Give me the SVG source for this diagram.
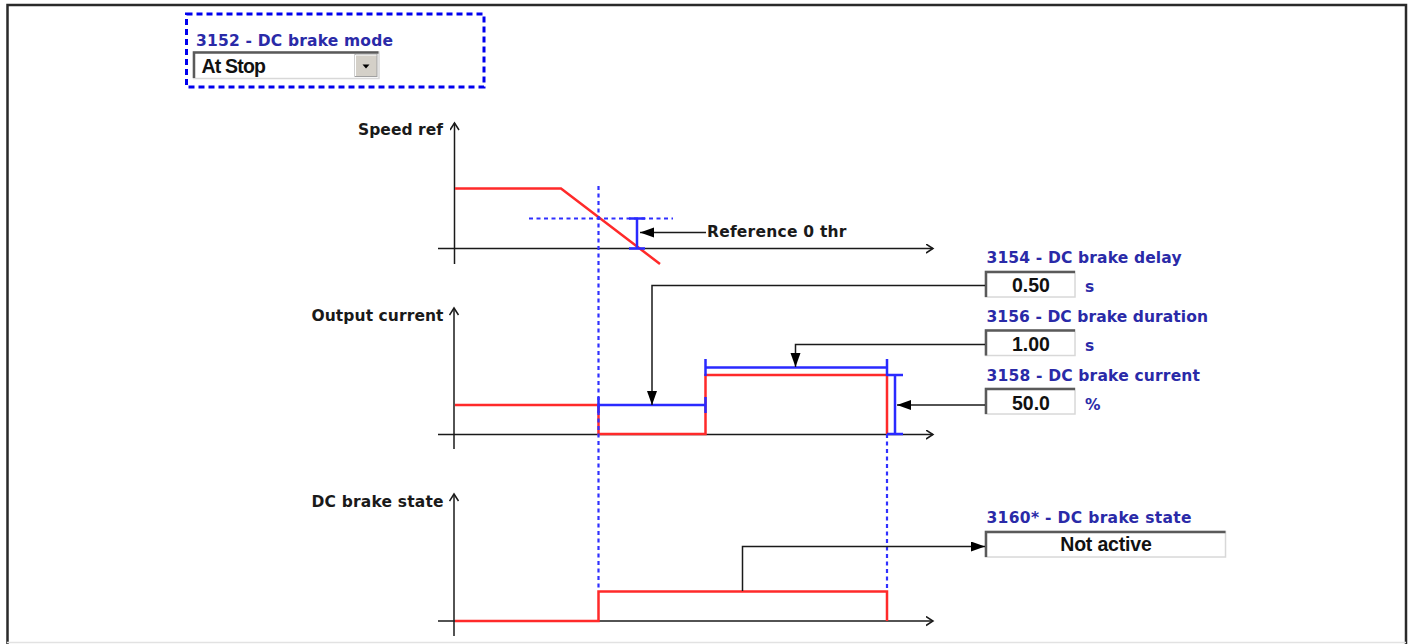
<svg xmlns="http://www.w3.org/2000/svg" width="1414" height="644" viewBox="0 0 1414 644">
<style>
.lbl{font-family:"DejaVu Sans",Verdana,sans-serif;font-weight:bold;font-size:15.5px;fill:#1a1a1a}
.par{font-family:"DejaVu Sans",Verdana,sans-serif;font-weight:bold;font-size:15.5px;fill:#2a2aa8}
.val{font-family:"Liberation Sans",Arial,sans-serif;font-weight:bold;font-size:19.5px;fill:#111}
.axis{stroke:#1a1a1a;stroke-width:1.5;fill:none}
.red{stroke:#ff2a2a;stroke-width:2.5;fill:none}
.blue{stroke:#2a2aff;stroke-width:2.5;fill:none}
.dash{stroke:#3030ff;stroke-width:2.2;stroke-dasharray:4 3.5;fill:none}
.conn{stroke:#1a1a1a;stroke-width:1.5;fill:none}
.boxbg{fill:#fff;stroke:#d8d8d8;stroke-width:1.5}
.boxsh{stroke:#5a5a5a;stroke-width:2.5;fill:none}
</style>
<defs>
<marker id="tri" markerUnits="userSpaceOnUse" markerWidth="16" markerHeight="12" refX="14" refY="5" orient="auto">
<path d="M0,0 L14,5 L0,10 z" fill="#000"/>
</marker>
<marker id="open" markerUnits="userSpaceOnUse" markerWidth="10" markerHeight="12" refX="7.5" refY="5" orient="auto">
<path d="M0.5,0.5 L7.5,5 L0.5,9.5" fill="none" stroke="#1a1a1a" stroke-width="1.5"/>
</marker>
</defs>
<rect width="1414" height="644" fill="#fff"/>
<!-- frame -->
<path d="M7.5,644 V5 H1406 V644" fill="none" stroke="#2a2a2a" stroke-width="2.5"/>
<line x1="7" y1="642.5" x2="1406" y2="642.5" stroke="#e2e2e2" stroke-width="1.5"/>

<g id="dc-brake-mode">
<rect x="186.5" y="14" width="297.5" height="73" fill="none" stroke="#0000ee" stroke-width="3" stroke-dasharray="6 4"/>
<text class="par" x="196" y="45.5" textLength="197" lengthAdjust="spacing">3152 - DC brake mode</text>
<rect x="193.5" y="52" width="185.5" height="26.5" class="boxbg"/>
<path d="M194,78 V52.5 H378.5" class="boxsh" stroke-width="2"/>
<rect x="355" y="54.5" width="22" height="22" fill="#d4d0c8" stroke="#a0a0a0" stroke-width="1"/>
<path d="M355.5,76 V55 H376.5" stroke="#fff" stroke-width="1" fill="none"/>
<path d="M362.5,64.5 H369.5 L366,68.5 z" fill="#000"/>
<text class="val" x="201.5" y="72.7" font-size="18" textLength="64.5" lengthAdjust="spacing">At Stop</text>
</g>

<g id="speed-ref-chart">
<text class="lbl" x="358" y="135" textLength="85" lengthAdjust="spacing">Speed ref</text>
<line class="axis" x1="454.5" y1="264" x2="454.5" y2="123" marker-end="url(#open)"/>
<line class="axis" x1="438" y1="248.5" x2="933" y2="248.5" marker-end="url(#open)"/>
<path class="red" d="M455,188.5 H561 L660,264"/>
<line class="dash" x1="529" y1="218.5" x2="673" y2="218.5"/>
<path class="blue" d="M637,218.5 V248.5 M629,218.5 H645 M629,248.5 H645"/>
</g>

<g id="reference-0-thr">
<text class="lbl" x="707" y="237" textLength="139.5" lengthAdjust="spacing">Reference 0 thr</text>
</g>

<g id="output-current-chart">
<text class="lbl" x="311.5" y="320.5" textLength="132" lengthAdjust="spacing">Output current</text>
<line class="axis" x1="454" y1="449" x2="454" y2="308" marker-end="url(#open)"/>
<line class="axis" x1="438" y1="434.5" x2="933" y2="434.5" marker-end="url(#open)"/>
<path class="red" d="M455,405 H598.5 V434 H705.5 V375 H887 V434"/>
<path class="blue" d="M598.5,405 H705.5 M598.5,397 V413 M705.5,397 V413"/>
<path class="blue" d="M705.5,367.5 H887 M705.5,359 V376 M887,359 V376"/>
<path class="blue" d="M895,375 V434 M887,375 H903 M887,434 H903"/>
</g>

<g id="dc-brake-state-chart">
<text class="lbl" x="311.5" y="506.5" textLength="132" lengthAdjust="spacing">DC brake state</text>
<line class="axis" x1="454" y1="636" x2="454" y2="494" marker-end="url(#open)"/>
<line class="axis" x1="438" y1="621" x2="933" y2="621" marker-end="url(#open)"/>
<path class="red" d="M455,621 H598.5 V591.5 H887 V621"/>
</g>

<g id="time-markers">
<line class="dash" x1="598.5" y1="186" x2="598.5" y2="591"/>
<line class="dash" x1="887" y1="434" x2="887" y2="591"/>
</g>

<g id="dc-brake-delay">
<text class="par" x="986.5" y="263" textLength="195" lengthAdjust="spacing">3154 - DC brake delay</text>
<rect x="985.5" y="271.5" width="89.5" height="25.5" class="boxbg"/>
<path d="M986,297 V272 H1075" class="boxsh"/>
<text class="val" x="1031" y="292" text-anchor="middle">0.50</text>
<text class="par" x="1085" y="292">s</text>
</g>

<g id="dc-brake-duration">
<text class="par" x="986.5" y="322" textLength="221.5" lengthAdjust="spacing">3156 - DC brake duration</text>
<rect x="985.5" y="330" width="89.5" height="25.5" class="boxbg"/>
<path d="M986,355.5 V330.5 H1075" class="boxsh"/>
<text class="val" x="1031" y="350.5" text-anchor="middle">1.00</text>
<text class="par" x="1085" y="351">s</text>
</g>

<g id="dc-brake-current">
<text class="par" x="986.5" y="381" textLength="213.5" lengthAdjust="spacing">3158 - DC brake current</text>
<rect x="985.5" y="388.5" width="89.5" height="25.5" class="boxbg"/>
<path d="M986,414 V389 H1075" class="boxsh"/>
<text class="val" x="1031" y="409.5" text-anchor="middle">50.0</text>
<text class="par" x="1085" y="410">%</text>
</g>

<g id="dc-brake-state">
<text class="par" x="986.5" y="523" textLength="205" lengthAdjust="spacing">3160* - DC brake state</text>
<rect x="985.5" y="531.5" width="240" height="25.5" class="boxbg"/>
<path d="M986,557 V532 H1225.5" class="boxsh"/>
<text class="val" x="1106" y="551" text-anchor="middle" textLength="91.5" lengthAdjust="spacing">Not active</text>
</g>

<g id="connectors">
<line class="conn" x1="706" y1="232.5" x2="640" y2="232.5" marker-end="url(#tri)"/>
<polyline class="conn" points="985,285.5 652,285.5 652,405" marker-end="url(#tri)"/>
<polyline class="conn" points="985,344.5 795.5,344.5 795.5,367" marker-end="url(#tri)"/>
<line class="conn" x1="985" y1="405" x2="897" y2="405" marker-end="url(#tri)"/>
<polyline class="conn" points="742.5,591 742.5,546.5 985,546.5" marker-end="url(#tri)"/>
</g>
</svg>
